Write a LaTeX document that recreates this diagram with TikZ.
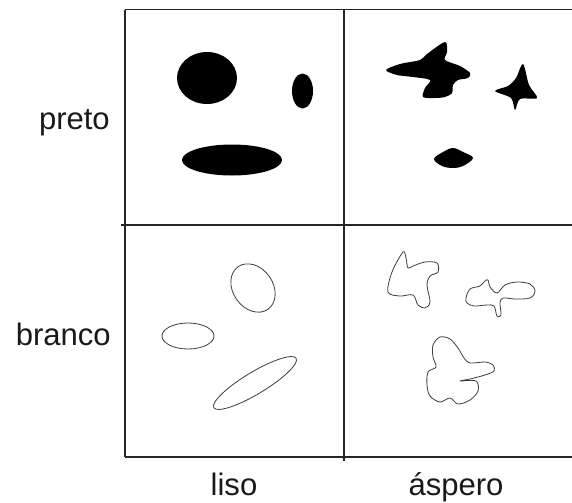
\documentclass[tikz,border=0pt]{standalone}
\usepackage{fontspec}
\setmainfont{Liberation Sans}
\begin{document}
\begin{tikzpicture}[x=0.03cm,y=-0.03cm,line join=round,
  gridline/.style={line width=1.5pt,black!85},
  lbl/.style={font=\fontsize{26.5}{30}\selectfont,text=black!90,inner sep=0pt},
  outline/.style={line width=0.7pt,black!75}]
\useasboundingbox (0,0) rectangle (572,502);
% the grid
\foreach \y in {9.5,457}
  \draw[gridline] (125,\y) -- (572,\y);
\draw[gridline] (121,225) -- (572,225);
\draw[gridline] (125,9.5) -- (125,457);
\draw[gridline] (344,9.5) -- (344,461);
% labels
\node[lbl,anchor=base east] (preto) at (110,129) {preto};
\node[lbl,anchor=base east] (branco) at (111,345) {branco};
\node[lbl,anchor=base] (liso) at (234,495) {liso};
\node[lbl,anchor=base] (aspero) at (456,495) {áspero};
% preto, liso
\fill (207,78) ellipse (30 and 26);
\fill (302.5,91) ellipse (10.5 and 17.5);
\fill (232,160) ellipse (50 and 15.5);
% preto, aspero
\fill plot[smooth cycle,tension=0.5] coordinates {(386,70) (400,64) (420,60) (427,54) (445,42)
  (447,52) (445,60) (460,66) (470,73) (468,78) (458,80) (453,85) (452,93) (445,97)
  (435,98) (423,97) (425,88) (430,80) (413,77) (397,75)};
\fill plot[smooth cycle,tension=0.5] coordinates {(523,64) (529,85) (537,98) (520,99)
  (515,110) (511,98) (495,91) (508,86) (516,78)};
\fill plot[smooth cycle,tension=0.6] coordinates {(434,159) (443,152) (453,148) (463,152)
  (473,158) (463,166) (453,168) (442,166)};
% branco, liso
\draw[outline,rotate around={35:(253,288)}] (253,288) ellipse (20 and 26);
\draw[outline] (188,336) ellipse (26 and 13);
\draw[outline,rotate around={31:(255,383)}] (255,383) ellipse (48 and 11);
% branco, aspero
\draw[outline] plot[smooth cycle,tension=0.55] coordinates {(403,252) (392,272) (388,292)
  (400,296) (413,295) (418,305) (425,308) (430,302) (427,285) (430,276) (438,272)
  (437,263) (425,262) (413,266) (408,268) (406,258)};
\draw[outline] plot[smooth cycle,tension=0.55] coordinates {(466,298) (470,289) (480,286)
  (485,281) (488,280) (490,287) (497,293) (505,285) (517,282) (530,284) (535,291)
  (530,298) (515,299) (503,298) (500,303) (501,315) (497,316) (494,306) (487,305)
  (474,306) (467,303)};
\draw[outline] plot[smooth cycle,tension=0.55] coordinates {(440,337) (450,339) (458,348)
  (464,358) (470,363) (485,362) (493,365) (494,371) (485,375) (470,379) (460,381)
  (476,381) (478,391) (470,400) (458,404) (450,398) (440,402) (430,396) (427,385)
  (428,372) (436,367) (433,357) (433,345)};
\end{tikzpicture}
\end{document}
